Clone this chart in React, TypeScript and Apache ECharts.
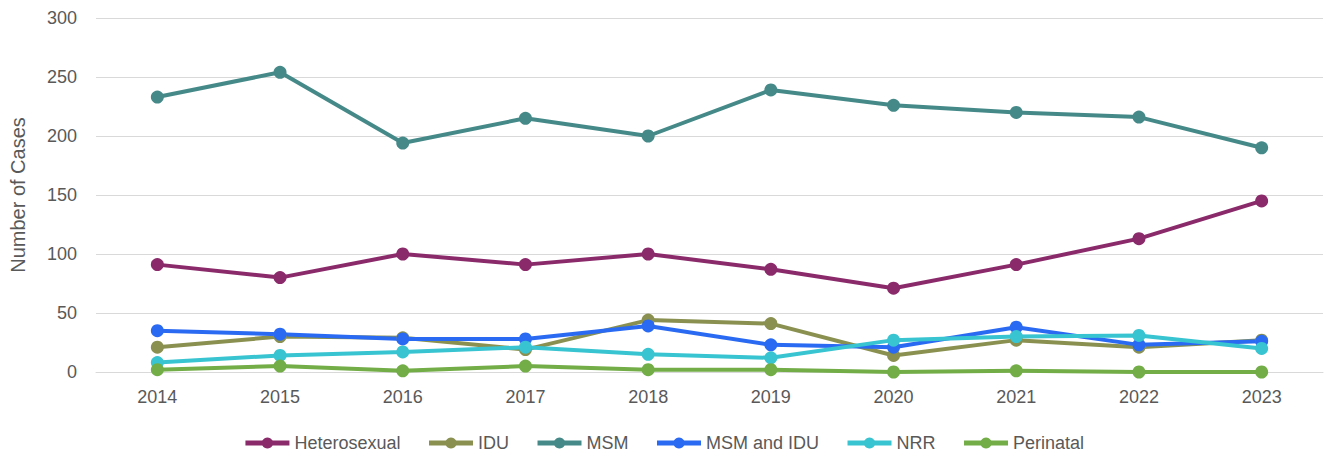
import React, { useEffect, useRef } from "react";
import * as echarts from "echarts";

const years = ["2014", "2015", "2016", "2017", "2018", "2019", "2020", "2021", "2022", "2023"];
const heterosexual = [91, 80, 100, 91, 100, 87, 71, 91, 113, 145];
const idu = [21, 30, 29, 19, 44, 41, 14, 27, 21, 27];
const msm = [233, 254, 194, 215, 200, 239, 226, 220, 216, 190];
const msmIdu = [35, 32, 28, 28, 39, 23, 21, 38, 23, 26];
const nrr = [8, 14, 17, 21, 15, 12, 27, 30, 31, 20];
const perinatal = [2, 5, 1, 5, 2, 2, 0, 1, 0, 0];
const yTicks = [0, 50, 100, 150, 200, 250, 300];

const seriesDefs = [
  { name: "Heterosexual", data: heterosexual, color: "#8B2A6B" },
  { name: "IDU", data: idu, color: "#8A9150" },
  { name: "MSM", data: msm, color: "#458A89" },
  { name: "MSM and IDU", data: msmIdu, color: "#2A6AF2" },
  { name: "NRR", data: nrr, color: "#38C4D0" },
  { name: "Perinatal", data: perinatal, color: "#72AD47" },
];

const FONT = "'Liberation Sans', Arial, sans-serif";

export default function App() {
  const ref = useRef<HTMLDivElement>(null);
  useEffect(() => {
    document.body.style.margin = "0";
    if (!ref.current) return;
    const chart = echarts.init(ref.current, undefined, { renderer: "svg" });
    chart.setOption({
      animation: false,
      textStyle: { fontFamily: FONT },
      grid: { left: 96, right: 4, top: 18, bottom: 82, containLabel: false },
      legend: {
        top: 429,
        left: "center",
        itemWidth: 44,
        itemHeight: 14,
        itemGap: 26,
        lineStyle: { width: 5 },
        textStyle: { fontSize: 18, color: "#595959", fontFamily: FONT },
        data: seriesDefs.map((s) => s.name),
      },
      xAxis: {
        type: "category",
        data: years,
        boundaryGap: true,
        axisLine: { show: true, lineStyle: { color: "#d9d9d9", width: 1 } },
        axisTick: { show: false },
        axisLabel: { fontSize: 18, color: "#595959", margin: 16, fontFamily: FONT },
      },
      yAxis: {
        type: "value",
        min: yTicks[0],
        max: yTicks[yTicks.length - 1],
        interval: 50,
        name: "Number of Cases",
        nameLocation: "middle",
        nameGap: 68,
        nameTextStyle: { fontSize: 20, color: "#595959", fontFamily: FONT },
        axisLine: { show: false },
        axisTick: { show: false },
        axisLabel: { fontSize: 18, color: "#595959", margin: 19, fontFamily: FONT },
        splitLine: { lineStyle: { color: "#d9d9d9", width: 1 } },
      },
      series: seriesDefs.map((s) => ({
        name: s.name,
        type: "line",
        data: s.data,
        symbol: "circle",
        symbolSize: 13,
        color: s.color,
        lineStyle: { width: 4, color: s.color },
        itemStyle: { color: s.color },
      })),
    });
    return () => chart.dispose();
  }, []);
  return <div ref={ref} style={{ width: 1327, height: 454 }} />;
}
